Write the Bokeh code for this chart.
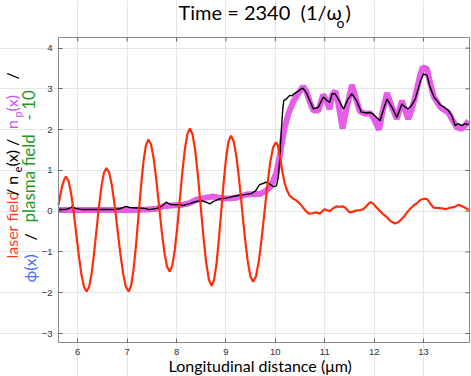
from bokeh.plotting import figure
from bokeh.models import Label, FixedTicker, Range1d
from bokeh.embed import file_html
from bokeh.resources import INLINE

# ---------------- data ----------------
laser_x = [5.61, 5.65, 5.69, 5.73, 5.76,
           5.8125, 5.865, 5.9175, 5.97, 6.0225, 6.075, 6.1275, 6.18,
           6.23, 6.28, 6.33, 6.38, 6.43, 6.48, 6.53, 6.58,
           6.636, 6.693, 6.749, 6.805, 6.861, 6.918, 6.974, 7.03,
           7.08, 7.13, 7.18, 7.23, 7.28, 7.33, 7.38, 7.43,
           7.484, 7.538, 7.591, 7.645, 7.699, 7.753, 7.806, 7.86,
           7.911, 7.963, 8.014, 8.065, 8.116, 8.168, 8.219, 8.27,
           8.325, 8.38, 8.435, 8.49, 8.545, 8.60, 8.655, 8.71,
           8.759, 8.808, 8.856, 8.905, 8.954, 9.003, 9.051, 9.10,
           9.156, 9.213, 9.269, 9.325, 9.381, 9.438, 9.494, 9.55,
           9.6075, 9.665, 9.7225, 9.78, 9.8375, 9.895, 9.9525, 10.01,
           10.05, 10.09, 10.14, 10.19, 10.24,
           10.29, 10.36, 10.43, 10.50, 10.56, 10.62, 10.68, 10.75, 10.83, 10.90, 10.95,
           11.00, 11.05, 11.10, 11.17, 11.24, 11.30, 11.36, 11.41, 11.46, 11.50, 11.57,
           11.65, 11.72, 11.78, 11.84, 11.90, 11.94, 11.99, 12.05, 12.12, 12.19, 12.26,
           12.34, 12.42, 12.50, 12.59, 12.66, 12.73, 12.80, 12.87, 12.94, 13.00, 13.07,
           13.13, 13.20, 13.28, 13.37, 13.45, 13.54, 13.62, 13.71, 13.78, 13.85, 13.92]
laser_y = [0.15, 0.42, 0.64, 0.79, 0.85,
           0.74, 0.44, -0.02, -0.56, -1.10, -1.56, -1.86, -1.97,
           -1.855, -1.526, -1.035, -0.455, 0.125, 0.616, 0.945, 1.06,
           0.945, 0.616, 0.125, -0.455, -1.035, -1.526, -1.855, -1.97,
           -1.828, -1.424, -0.819, -0.105, 0.609, 1.214, 1.618, 1.76,
           1.637, 1.285, 0.76, 0.14, -0.48, -1.005, -1.357, -1.48,
           -1.347, -0.966, -0.397, 0.275, 0.947, 1.516, 1.897, 2.03,
           1.883, 1.465, 0.839, 0.10, -0.639, -1.265, -1.683, -1.83,
           -1.69, -1.291, -0.695, 0.01, 0.715, 1.311, 1.71, 1.85,
           1.714, 1.326, 0.746, 0.06, -0.626, -1.206, -1.594, -1.73,
           -1.60, -1.229, -0.675, -0.02, 0.635, 1.189, 1.56, 1.69,
           1.62, 1.35, 0.98, 0.68, 0.50,
           0.38, 0.31, 0.26, 0.18, 0.09, 0.00, -0.06, -0.05, -0.03, -0.06, 0.00,
           0.05, 0.02, 0.00, 0.07, 0.12, 0.11, 0.12, 0.09, 0.03, -0.03, -0.01,
           0.02, 0.03, 0.05, 0.12, 0.20, 0.22, 0.17, 0.09, 0.00, -0.08, -0.15,
           -0.25, -0.30, -0.26, -0.15, -0.04, 0.06, 0.14, 0.20, 0.28, 0.30, 0.30,
           0.20, 0.09, 0.08, 0.07, 0.05, 0.09, 0.10, 0.16, 0.12, 0.08, 0.03]

ne_x = [5.61, 5.75, 5.85, 5.89, 5.95, 6.10, 6.40, 6.70, 6.85, 6.98, 7.05, 7.20, 7.35,
        7.45, 7.60, 7.70, 7.79, 7.87, 7.95, 8.05, 8.13, 8.25, 8.35, 8.45, 8.50, 8.60,
        8.67, 8.75, 8.87, 9.00, 9.21, 9.35, 9.51, 9.60, 9.68, 9.75, 9.81, 9.87, 9.96,
        10.02, 10.06, 10.09, 10.12, 10.15, 10.17, 10.22, 10.29, 10.34, 10.39, 10.45,
        10.50, 10.56, 10.63, 10.70, 10.77, 10.87, 10.97, 11.04, 11.10, 11.15, 11.21,
        11.31, 11.38, 11.47, 11.55, 11.64, 11.74, 11.84, 11.92, 11.98, 12.05, 12.12,
        12.19, 12.26, 12.36, 12.46, 12.56, 12.63, 12.69, 12.76, 12.83, 12.94, 13.00,
        13.07, 13.13, 13.21, 13.28, 13.34, 13.42, 13.50, 13.57, 13.64, 13.70, 13.77,
        13.84, 13.91]
ne_y = [0.04, 0.04, 0.08, 0.12, 0.07, 0.04, 0.04, 0.04, 0.06, 0.12, 0.09, 0.08, 0.07,
        0.04, 0.07, 0.12, 0.22, 0.17, 0.16, 0.16, 0.14, 0.18, 0.22, 0.25, 0.26, 0.22,
        0.18, 0.24, 0.30, 0.32, 0.38, 0.40, 0.43, 0.50, 0.65, 0.68, 0.71, 0.68, 0.60,
        0.62, 0.83, 1.30, 1.98, 2.50, 2.71, 2.75, 2.84, 2.83, 2.89, 2.93,
        2.98, 3.02, 2.90, 2.70, 2.51, 2.55, 2.80, 2.72, 2.67, 2.88, 2.88,
        2.67, 2.50, 2.75, 2.88, 2.72, 2.43, 2.41, 2.42, 2.38, 2.30, 2.22,
        2.50, 2.75, 2.55, 2.30, 2.63, 2.55, 2.51, 2.60, 2.75, 3.20, 3.37,
        3.33, 3.05, 2.80, 2.70, 2.60, 2.55, 2.47, 2.35, 2.10, 2.15, 2.10,
        2.15, 2.12]

np_x = [5.61, 5.90, 6.20, 6.50, 6.80, 7.10, 7.40, 7.59, 7.73, 7.90, 8.13, 8.27, 8.40,
        8.55, 8.73, 8.93, 9.10, 9.21, 9.41, 9.61, 9.70, 9.81, 9.90, 9.96, 10.02, 10.09,
        10.15, 10.19, 10.26, 10.36, 10.46, 10.56, 10.63, 10.70, 10.77, 10.87, 10.97,
        11.04, 11.10, 11.15, 11.21, 11.27, 11.36, 11.44, 11.55, 11.63, 11.71, 11.82,
        11.92, 11.98, 12.10, 12.18, 12.26, 12.36, 12.46, 12.56, 12.69, 12.76, 12.83,
        12.92, 12.98, 13.07, 13.13, 13.21, 13.34, 13.50, 13.58, 13.67, 13.77, 13.84, 13.91]
np_y = [0.03, 0.03, 0.03, 0.03, 0.03, 0.03, 0.04, 0.06, 0.12, 0.14, 0.16, 0.20, 0.28,
        0.32, 0.36, 0.31, 0.32, 0.33, 0.41, 0.42, 0.43, 0.50, 0.60, 0.75, 0.95, 1.35,
        1.80, 2.05, 2.38, 2.68, 2.88, 3.06, 2.93, 2.67, 2.47, 2.47, 2.86,
        2.70, 2.50, 2.85, 2.95, 2.67, 2.03, 2.51, 3.10, 2.76, 2.45, 2.39,
        2.40, 2.30, 2.00, 2.50, 2.90, 2.55, 2.26, 2.71, 2.26, 2.50, 2.80,
        3.29, 3.53, 3.49, 3.16, 2.80, 2.55, 2.42, 2.25, 2.06, 2.02, 2.10, 2.22]

x_ticks = [6, 7, 8, 9, 10, 11, 12, 13]
y_ticks = [-3, -2, -1, 0, 1, 2, 3, 4]

# ---------------- layout ----------------
W, H = 471, 376                            # canvas
FL, FT, FR, FB = 58, 37, 469, 342          # data box edges (px)
X0, X1, Y0, Y1 = 5.61, 13.93, -3.22, 4.26  # data box extents
sx = (FR - FL) / (X1 - X0)
sy = (FB - FT) / (Y1 - Y0)
xr = Range1d(X0 - FL / sx, X1 + (W - FR) / sx)
yr = Range1d(Y0 - (H - FB) / sy, Y1 + FT / sy)

FONT = "Lato"
p = figure(frame_width=W, frame_height=H, output_backend="svg",
           toolbar_location=None, x_range=xr, y_range=yr,
           min_border_left=0, min_border_right=0, min_border_top=0,
           min_border_bottom=0)
p.background_fill_color = "white"
p.border_fill_color = "white"
p.outline_line_color = None

AX_COL = "#8a8a8a"
for ax in (p.xaxis[0], p.yaxis[0]):
    ax.major_tick_in = 4
    ax.major_tick_out = 0
    ax.minor_tick_line_color = None
    ax.axis_line_color = AX_COL
    ax.major_tick_line_color = "#666666"
    ax.major_label_text_font = "Liberation Sans"
    ax.major_label_text_font_size = "9.5px"
    ax.major_label_text_color = "#333333"
    ax.major_label_standoff = 6
p.xaxis[0].ticker = FixedTicker(ticks=x_ticks)
p.yaxis[0].ticker = FixedTicker(ticks=y_ticks)
p.xaxis[0].fixed_location = Y0
p.yaxis[0].fixed_location = X0
p.xaxis[0].bounds = (X0, X1)
p.yaxis[0].bounds = (Y0, Y1)

p.xgrid.ticker = FixedTicker(ticks=x_ticks)
p.ygrid.ticker = FixedTicker(ticks=y_ticks)
p.xgrid.bounds = (Y0, Y1)
p.ygrid.bounds = (X0, X1)
p.grid.grid_line_color = "#e6e6e6"
p.grid.grid_line_width = 1

# top and right edges of the box, with inward ticks
tx = 4 / sx
ty = 4 / sy
p.segment(x0=[X0, X1], y0=[Y1, Y0], x1=[X1, X1], y1=[Y1, Y1],
          line_color=AX_COL, line_width=1)
p.segment(x0=x_ticks, y0=[Y1] * len(x_ticks), x1=x_ticks, y1=[Y1 - ty] * len(x_ticks),
          line_color="#666666", line_width=1)
p.segment(x0=[X1] * len(y_ticks), y0=y_ticks, x1=[X1 - tx] * len(y_ticks), y1=y_ticks,
          line_color="#666666", line_width=1)

# ---------------- curves ----------------
p.line(np_x, np_y, line_color="#e24be6", line_width=6, line_alpha=0.9)
p.line(ne_x, ne_y, line_color="black", line_width=1.4)
p.line(laser_x, laser_y, line_color="#ff2d0a", line_width=2.2)

# ---------------- texts ----------------
def dx(X):
    return X0 + (X - FL) / sx

def dy(Y):
    return Y1 - (Y - FT) / sy

A = 1.5707963267948966

def lab(text, X, Y, color="black", size=16, angle=0.0):
    off = 0.45 * size          # baseline correction measured on the render
    if angle:
        X = X - off
    else:
        Y = Y - off
    p.add_layout(Label(x=dx(X), y=dy(Y), text=text, text_color=color,
                       text_font=FONT, text_font_size=f"{size}px", angle=angle,
                       text_align="left", text_baseline="alphabetic"))

NB = "\u00a0"
# title
lab("Time" + NB + "=" + NB + "2340" + NB + NB + "(1/\u03c9", 178, 20, size=20)
lab("o", 336, 28, size=14)
lab(")", 345, 20, size=20)

# x label
lab("Longitudinal distance (\u03bcm)", 168, 372, size=16)

# y label (rotated, two lines)
RED, MAG, BLUE, GREEN = "#ff3b1f", "#cc55f0", "#3d6cff", "#1f9a1f"
lab("laser field", 18, 258, RED, angle=A)
lab("/ n", 18, 195.5, "black", angle=A)
lab("e", 22, 172, "black", size=11, angle=A)
lab("(x) /", 18, 166, "black", angle=A)
lab("n", 18, 128.5, MAG, angle=A)
lab("p", 22, 117, MAG, size=11, angle=A)
lab("(x)", 18, 111, MAG, angle=A)
lab("/", 18, 79, "black", angle=A)

lab("\u03d5(x)", 36, 282, BLUE, angle=A)
lab("/", 36, 240, "black", angle=A)
lab("plasma field", 36, 222, GREEN, size=17, angle=A)
lab("-" + NB + "10", 36, 120, GREEN, size=17, angle=A)

open("out.html", "w").write(file_html(p, INLINE))
